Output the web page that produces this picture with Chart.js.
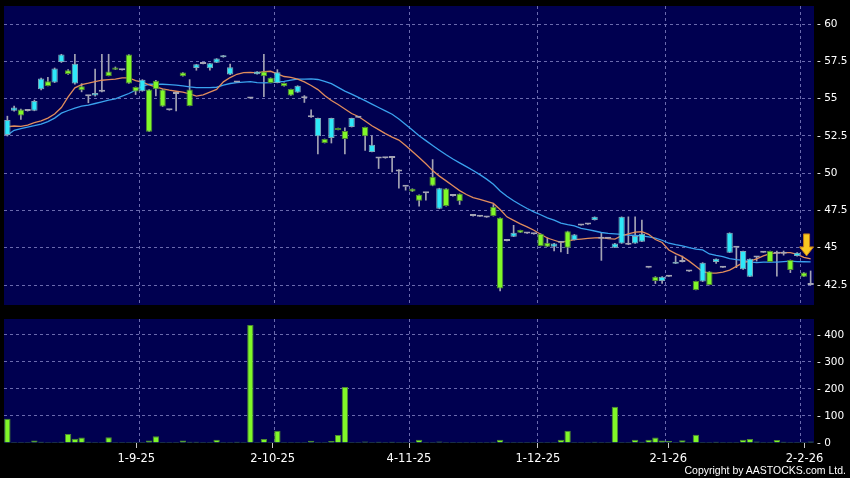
<!DOCTYPE html>
<html>
<head>
<meta charset="utf-8">
<script src="https://cdn.jsdelivr.net/npm/chart.js@4.4.1/dist/chart.umd.min.js"></script>
<style>
  html, body { margin: 0; padding: 0; background: #000; }
  #wrap { position: relative; width: 850px; height: 478px; overflow: hidden; background: #000; }
  #price_chart { position: absolute; left: 0; top: 0; }
  #vol_chart { position: absolute; left: 0; top: 312px; }
  #copy { position: absolute; right: 4px; top: 464px; color: #fff; font: 10.5px "Liberation Sans", sans-serif; white-space: nowrap; }
</style>
</head>
<body>
<div id="wrap">
  <canvas id="price_chart" width="850" height="312"></canvas>
  <canvas id="vol_chart" width="850" height="166"></canvas>
  <div id="copy">Copyright by AASTOCKS.com Ltd.</div>
</div>
<script>
// daily candles, oldest first (null = no trade)
var opens = [52.55,54.18,54.27,54.16,54.18,55.63,56.16,56.07,57.46,56.90,56.01,55.83,55.16,55.20,55.45,56.81,57.08,56.90,57.95,55.78,
  55.49,55.61,56.19,55.61,54.22,55.30,56.74,55.61,57.05,57.32,57.03,57.41,57.77,56.61,56.07,null,55.00,56.63,56.81,56.39,
  56.05,56.05,55.64,55.41,55.03,53.74,52.47,52.29,52.36,53.02,52.82,53.09,53.72,53.09,51.42,50.98,51.00,51.02,50.11,49.08,
  48.95,48.55,48.66,49.75,47.61,48.97,48.46,48.61,null,47.12,47.08,47.03,47.74,47.01,45.45,45.74,46.18,45.96,45.90,45.94,
  45.34,45.07,45.33,46.11,45.51,46.49,46.56,46.85,45.60,45.60,45.00,45.29,45.20,45.29,45.40,43.65,43.06,42.77,43.06,43.93,
  44.04,43.40,42.77,42.73,43.40,44.04,43.66,44.67,45.00,43.55,43.06,44.35,44.67,44.78,44.60,44.60,44.18,44.44,43.33,42.50];
var highs = [53.82,54.50,54.30,54.16,54.90,56.38,56.43,57.05,57.97,56.95,57.97,56.00,55.16,56.97,57.97,57.97,57.12,56.90,57.95,55.78,
  56.27,55.61,56.23,55.61,54.22,55.35,56.74,56.27,57.30,57.32,57.37,57.68,57.90,57.32,56.07,null,55.00,56.81,57.97,56.39,
  56.94,56.05,55.64,55.86,55.20,54.25,53.69,52.29,53.69,53.02,53.03,53.69,53.72,53.09,52.51,51.00,51.00,51.02,50.24,49.08,
  48.95,48.55,48.66,50.91,48.99,48.97,48.46,48.61,null,47.12,47.08,47.03,47.90,47.01,45.45,46.50,46.18,45.96,45.90,45.94,
  45.67,45.29,45.33,46.11,45.89,46.49,46.56,47.07,46.00,45.60,45.29,47.07,47.07,47.07,46.85,43.65,43.06,43.06,43.06,44.44,
  44.44,43.40,42.77,44.00,43.40,44.26,43.66,46.00,45.00,44.78,44.26,44.41,44.67,44.78,44.78,44.78,44.18,44.67,43.33,43.44];
var lows = [52.49,54.15,53.60,54.16,54.18,55.58,55.85,56.07,57.42,56.62,55.97,55.45,54.72,55.16,55.45,56.52,56.94,56.90,56.01,55.27,
  55.49,52.78,55.18,54.47,54.22,54.18,56.50,54.51,56.90,57.32,56.90,57.41,57.77,56.61,56.07,null,55.00,56.63,55.12,56.05,
  56.05,55.83,55.21,55.41,54.74,53.74,51.29,52.02,52.02,52.89,51.29,53.09,53.72,51.53,51.42,50.31,51.00,50.08,49.00,48.86,
  48.77,47.79,48.19,49.15,47.61,47.79,48.46,47.90,null,47.12,47.08,47.03,47.12,42.11,45.45,45.74,46.01,45.96,45.90,45.12,
  45.07,44.78,44.71,44.60,45.51,46.49,46.56,46.85,44.15,45.60,45.00,45.29,45.20,45.29,45.40,43.65,42.60,42.60,43.06,43.93,
  44.04,43.40,42.17,42.73,42.50,43.95,43.66,44.67,43.66,43.55,43.06,44.10,44.67,44.04,43.10,44.50,43.33,44.44,43.06,42.50];
var closes = [53.56,54.40,53.87,54.16,54.83,56.34,55.85,57.01,57.95,56.65,57.34,55.56,55.16,55.38,55.45,56.52,56.94,56.90,56.01,55.47,
  56.27,52.78,55.63,54.47,54.22,55.30,56.50,54.51,57.30,57.32,57.37,57.68,57.90,57.10,56.07,null,55.00,56.81,56.50,56.05,
  56.76,55.83,55.21,55.86,55.03,53.74,53.69,52.02,53.69,52.89,52.29,53.69,53.72,52.47,51.91,50.98,51.00,51.02,50.11,49.08,
  48.77,48.15,48.66,49.15,48.99,47.79,48.46,48.12,null,47.12,47.08,47.03,47.12,42.26,45.45,46.01,46.01,45.96,45.90,45.12,
  45.07,45.29,45.33,45.00,45.89,46.49,46.56,47.07,45.60,45.60,45.29,47.07,45.20,45.78,45.94,43.65,42.77,43.06,43.06,44.06,
  44.04,43.40,42.17,44.00,42.50,44.26,43.66,46.00,45.00,44.78,44.26,44.35,44.67,44.04,44.60,44.60,43.51,44.67,43.06,42.50];
var volumes = [90,4,1,4,9,5,1,1,5,33,16,20,5,2,1,21,1,1,4,1,
  1,9,25,4,1,1,9,5,5,1,1,12,2,1,5,4,437,1,15,1,
  45,1,3,3,3,8,2,1,7,30,207,1,4,6,1,5,1,5,1,1,
  1,12,4,1,6,1,1,4,1,1,1,1,5,12,1,4,1,1,1,1,
  1,1,12,45,1,1,4,5,4,1,134,1,4,12,5,12,20,9,7,4,
  10,1,31,1,1,5,1,1,4,12,15,6,1,4,11,5,1,2,1,6];
// moving averages as drawn (short = orange, long = blue)
var maShort = [53.11,53.16,53.13,53.22,53.38,53.51,53.69,53.96,54.40,55.12,55.72,55.94,56.03,56.14,56.23,56.27,56.30,56.39,56.39,56.21,
  56.10,55.92,55.78,55.65,55.56,55.49,55.43,55.32,55.16,55.25,55.43,55.61,56.12,56.41,56.63,56.74,56.76,56.72,56.81,56.83,
  56.65,56.48,56.42,56.30,56.12,55.88,55.60,55.20,54.87,54.60,54.30,54.00,53.80,53.50,53.18,52.92,52.65,52.42,52.22,51.86,
  51.45,51.05,50.63,50.17,49.80,49.48,49.15,48.83,48.57,48.36,48.24,48.10,47.97,47.56,47.07,46.83,46.60,46.40,46.17,45.90,
  45.65,45.50,45.36,45.45,45.54,45.58,45.62,45.66,45.67,45.61,45.58,45.80,45.93,46.04,46.07,45.90,45.55,45.35,44.85,44.60,
  44.40,44.10,43.75,43.40,43.30,43.29,43.37,43.50,43.75,44.00,44.10,44.25,44.45,44.60,44.65,44.67,44.67,44.55,44.35,44.25];
var maLong = [52.55,52.87,52.98,53.09,53.18,53.29,53.45,53.69,54.02,54.20,54.36,54.49,54.56,54.67,54.78,54.89,54.98,55.16,55.34,55.56,
  55.83,55.96,55.96,55.96,55.94,55.90,55.85,55.78,55.74,55.74,55.74,55.76,55.90,56.01,56.07,56.10,56.14,56.07,56.05,56.07,
  56.10,56.16,56.24,56.30,56.30,56.32,56.28,56.15,56.00,55.75,55.50,55.30,55.08,54.86,54.63,54.40,54.18,53.95,53.63,53.26,
  52.89,52.51,52.18,51.85,51.54,51.23,50.95,50.69,50.44,50.18,49.90,49.60,49.26,48.80,48.45,48.15,47.88,47.63,47.40,47.21,
  47.00,46.85,46.65,46.55,46.47,46.30,46.21,46.12,46.02,45.96,45.93,45.89,45.85,45.82,45.79,45.72,45.65,45.50,45.30,45.20,
  45.12,45.00,44.90,44.85,44.58,44.48,44.40,44.27,44.20,44.15,44.05,44.00,44.03,44.04,44.04,44.07,44.10,44.07,44.06,44.05];

var priceTicks = [42.5, 45, 47.5, 50, 52.5, 55, 57.5, 60];
var volTicks = [0, 100, 200, 300, 400];
var dateGrid = [19.5, 39.5, 59.5, 78.5, 97.5, 117.5];
var dateTickPos = [19.1, 39.3, 59.5, 78.6, 97.9, 118.1];
var dateLabels = ['1-9-25', '2-10-25', '4-11-25', '1-12-25', '2-1-26', '2-2-26'];
var lastArrow = {x: 118.4, y: 44.45};

var navy = '#000050';
var gridColor = 'rgba(125,125,190,0.85)';
var upFill = '#2ee8f8', upLine = '#7fa8b8';
var downFill = '#80f828', downLine = '#4e8a30';
var flatFill = '#a4a4b4';
var wickColor = '#a4a4b4';
var yFont = {family: 'DejaVu Sans', size: 10.5};
var xFont = {family: 'DejaVu Sans', size: 11.5};

var plotBg = {
  id: 'plotBg',
  beforeDraw(chart) {
    var a = chart.chartArea, ctx = chart.ctx;
    ctx.save();
    ctx.fillStyle = navy;
    ctx.fillRect(a.left, a.top, a.right - a.left, a.bottom - a.top);
    ctx.restore();
  }
};

var arrowMark = {
  id: 'arrowMark',
  afterDatasetsDraw(chart) {
    var ctx = chart.ctx;
    var x = chart.scales.x.getPixelForValue(lastArrow.x);
    var tip = chart.scales.y.getPixelForValue(lastArrow.y);
    ctx.save();
    ctx.beginPath();
    ctx.moveTo(x, tip);
    ctx.lineTo(x - 7, tip - 9);
    ctx.lineTo(x - 3, tip - 9);
    ctx.lineTo(x - 3, tip - 22);
    ctx.lineTo(x + 3, tip - 22);
    ctx.lineTo(x + 3, tip - 9);
    ctx.lineTo(x + 7, tip - 9);
    ctx.closePath();
    ctx.fillStyle = '#f8c820';
    ctx.fill();
    ctx.strokeStyle = '#c07818';
    ctx.lineWidth = 1;
    ctx.stroke();
    ctx.restore();
  }
};

function candleColor(i, up, down, flat) {
  if (closes[i] > opens[i]) return up;
  if (closes[i] < opens[i]) return down;
  return flat;
}

// no edge padding from tick labels, so the plot areas sit where they should
function noPad(s) {
  s.paddingTop = 0; s.paddingBottom = 0; s.paddingLeft = 0; s.paddingRight = 0;
}

function xScale() {
  return {
    type: 'linear', min: -0.5, max: 119.5, offset: false,
    grid: {color: gridColor, drawTicks: false, offset: false},
    border: {display: false, dash: [3, 3]},
    ticks: {display: false},
    afterBuildTicks: function (s) { s.ticks = dateGrid.map(function (v) { return {value: v}; }); },
    afterFit: function (s) { s.height = 0; noPad(s); }
  };
}

var chart = {
  price_chart() {
    var bodies = [], wicks = [];
    closes.forEach(function (c, i) {
      if (c == null) return;
      bodies.push({x: i, y: [opens[i], c]});
      wicks.push({x: i, y: [lows[i], highs[i]]});
    });
    new Chart(document.getElementById('price_chart'), {
      type: 'bar',
      data: {
        datasets: [
          {
            data: bodies, grouped: false, order: 0,
            barPercentage: 0.94, categoryPercentage: 1, minBarLength: 2,
            borderWidth: 1, borderSkipped: false,
            backgroundColor: function (ctx) { return ctx.raw ? candleColor(ctx.raw.x, upFill, downFill, flatFill) : flatFill; },
            borderColor: function (ctx) { return ctx.raw ? candleColor(ctx.raw.x, upLine, downLine, flatFill) : flatFill; }
          },
          {
            type: 'line', order: 1,
            data: maShort.map(function (v, i) { return {x: i, y: v}; }),
            borderColor: '#e08c5c', borderWidth: 1.3, pointRadius: 0, tension: 0
          },
          {
            type: 'line', order: 1,
            data: maLong.map(function (v, i) { return {x: i, y: v}; }),
            borderColor: '#3aa2ee', borderWidth: 1.3, pointRadius: 0, tension: 0
          },
          {
            data: wicks, grouped: false, order: 2,
            barThickness: 1, borderWidth: 0, backgroundColor: wickColor
          }
        ]
      },
      options: {
        responsive: false, animation: false,
        layout: {padding: {left: 4, top: 6, right: 0, bottom: 7}},
        plugins: {legend: {display: false}, tooltip: {enabled: false}},
        scales: {
          x: xScale(),
          y: {
            position: 'right', min: 41.159, max: 61.207,
            grid: {color: gridColor, drawTicks: false},
            border: {display: false, dash: [3, 3]},
            ticks: {color: '#fff', font: yFont, padding: 3, callback: function (v) { return '- ' + v; }},
            afterBuildTicks: function (s) { s.ticks = priceTicks.map(function (v) { return {value: v}; }); },
            afterFit: function (s) { s.width = 36; noPad(s); }
          }
        }
      },
      plugins: [plotBg, arrowMark]
    });
  },
  vol_chart() {
    new Chart(document.getElementById('vol_chart'), {
      type: 'bar',
      data: {
        datasets: [{
          data: volumes.map(function (v, i) { return {x: i, y: v}; }),
          barPercentage: 0.94, categoryPercentage: 1, minBarLength: 1,
          backgroundColor: downFill, borderColor: downLine, borderWidth: 1
        }]
      },
      options: {
        responsive: false, animation: false,
        layout: {padding: {left: 4, top: 7, right: 0, bottom: 0}},
        plugins: {legend: {display: false}, tooltip: {enabled: false}},
        scales: {
          x: xScale(),
          x2: {
            type: 'linear', position: 'bottom', min: -0.5, max: 119.5, offset: false,
            grid: {drawOnChartArea: false, drawTicks: true, tickLength: 5, tickColor: '#c8c8c8', offset: false},
            border: {display: false},
            ticks: {color: '#fff', font: xFont, padding: 4, maxRotation: 0, autoSkip: false,
              callback: function (v, i) { return dateLabels[i]; }},
            afterBuildTicks: function (s) { s.ticks = dateTickPos.map(function (v) { return {value: v}; }); },
            afterFit: function (s) { s.height = 35; noPad(s); }
          },
          y: {
            position: 'right', min: 0, max: 459,
            grid: {color: function (ctx) { return ctx.tick && ctx.tick.value === 0 ? 'rgba(0,0,0,0)' : gridColor; }, drawTicks: false},
            border: {display: false, dash: [3, 3]},
            ticks: {color: '#fff', font: yFont, padding: 3, callback: function (v) { return '- ' + v; }},
            afterBuildTicks: function (s) { s.ticks = volTicks.map(function (v) { return {value: v}; }); },
            afterFit: function (s) { s.width = 36; noPad(s); }
          }
        }
      },
      plugins: [plotBg]
    });
  }
};

chart.price_chart();
chart.vol_chart();
</script>
</body>
</html>
